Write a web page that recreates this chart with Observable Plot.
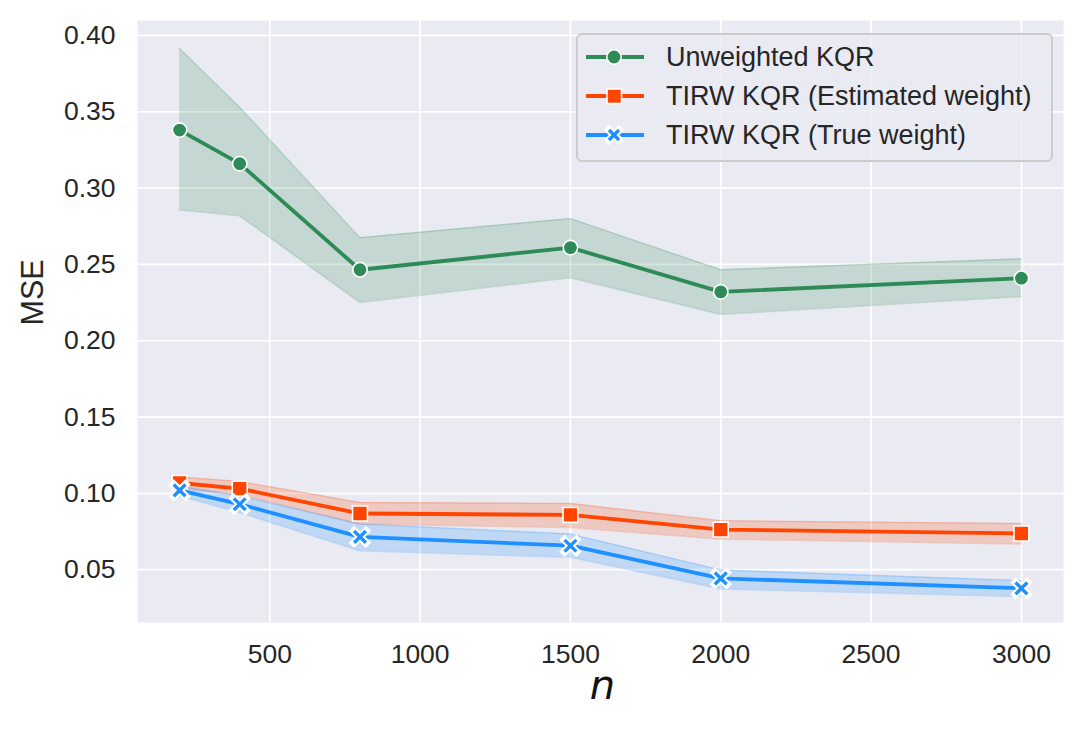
<!DOCTYPE html>
<html>
<head>
<meta charset="utf-8">
<script src="https://cdn.jsdelivr.net/npm/d3@7"></script>
<script src="https://cdn.jsdelivr.net/npm/@observablehq/plot@0.6"></script>
<style>
  html, body { margin: 0; padding: 0; background: #ffffff; }
  #wrap { position: relative; width: 1085px; height: 738px; font-family: "Liberation Sans", Arial, sans-serif; }
  #legend {
    position: absolute; left: 576px; top: 33px; width: 473px; height: 125px;
    background: rgba(234,234,242,0.8); border: 2px solid #cccccc; border-radius: 6px;
    box-sizing: content-box;
  }
  .row { position: absolute; left: 0; height: 40px; display: flex; align-items: center; }
  .row span { position: absolute; left: 88px; font-size: 27px; color: #262626; white-space: nowrap; line-height: 40px; }
</style>
</head>
<body>
<div id="wrap"><div id="legend"></div></div>
<script>
// ---- data ----
const ns = [200, 400, 800, 1500, 2000, 3000];
const seriesNames = ["Unweighted KQR", "TIRW KQR (Estimated weight)", "TIRW KQR (True weight)"];
const seriesColors = ["#2e8b57", "#ff4500", "#1e90ff"];
const seriesSymbols = ["circle", "square", "times"];

const unweighted   = [0.338, 0.316, 0.2465, 0.261, 0.232, 0.241];
const unweightedLo = [0.2857, 0.2818, 0.225, 0.2413, 0.2172, 0.2289];
const unweightedHi = [0.3915, 0.353, 0.2675, 0.280, 0.2465, 0.2537];

const estimated    = [0.1068, 0.1031, 0.0868, 0.0859, 0.0763, 0.0737];
const estimatedLo  = [0.1035, 0.0990, 0.0800, 0.0776, 0.0700, 0.0668];
const estimatedHi  = [0.1107, 0.1077, 0.0940, 0.0933, 0.0820, 0.0802];

const trueW        = [0.1020, 0.0929, 0.0715, 0.0657, 0.0443, 0.0378];
const trueWLo      = [0.0983, 0.0874, 0.0624, 0.0581, 0.0374, 0.0324];
const trueWHi      = [0.1049, 0.0983, 0.0800, 0.0733, 0.0498, 0.0428];

const xTicks = [500, 1000, 1500, 2000, 2500, 3000];
const yTicks = [0.05, 0.10, 0.15, 0.20, 0.25, 0.30, 0.35, 0.40];
const xLabel = "n";
const yLabel = "MSE";

// ---- table ----
const means = [unweighted, estimated, trueW];
const los = [unweightedLo, estimatedLo, trueWLo];
const his = [unweightedHi, estimatedHi, trueWHi];
const tables = seriesNames.map((name, s) => ns.map((n, i) => ({n, series: name, y: means[s][i], lo: los[s][i], hi: his[s][i]})));

const marks = [
  Plot.frame({fill: "#eaeaf2", stroke: null}),
  Plot.gridX(xTicks, {stroke: "#ffffff", strokeOpacity: 1, strokeWidth: 1.7}),
  Plot.gridY(yTicks, {stroke: "#ffffff", strokeOpacity: 1, strokeWidth: 1.7}),
  Plot.axisX(xTicks, {tickSize: 0, tickPadding: 22, label: null, tickFormat: d => String(d)}),
  Plot.axisY(yTicks, {tickSize: 0, tickPadding: 22, label: null, tickFormat: d3.format(".2f")}),
];
// bands (all below lines)
tables.forEach((t, s) => {
  const c = seriesColors[s];
  marks.push(Plot.areaY(t, {x: "n", y1: "lo", y2: "hi", fill: c, fillOpacity: 0.2}));
  marks.push(Plot.lineY(t, {x: "n", y: "lo", stroke: c, strokeOpacity: 0.2, strokeWidth: 1.5}));
  marks.push(Plot.lineY(t, {x: "n", y: "hi", stroke: c, strokeOpacity: 0.2, strokeWidth: 1.5}));
});
// lines + markers
tables.forEach((t, s) => {
  const c = seriesColors[s];
  marks.push(Plot.lineY(t, {x: "n", y: "y", stroke: c, strokeWidth: 3.8}));
  if (seriesSymbols[s] === "times") {
    marks.push(Plot.dot(t, {x: "n", y: "y", symbol: "times", r: 5.4, stroke: "#ffffff", strokeWidth: 7.5, strokeLinecap: "square"}));
    marks.push(Plot.dot(t, {x: "n", y: "y", symbol: "times", r: 5.4, stroke: c, strokeWidth: 3.4, strokeLinecap: "butt"}));
  } else if (seriesSymbols[s] === "square") {
    marks.push(Plot.dot(t, {x: "n", y: "y", symbol: "square", r: 8.4, fill: c, stroke: "#ffffff", strokeWidth: 1.6}));
  } else {
    marks.push(Plot.dot(t, {x: "n", y: "y", symbol: "circle", r: 7.2, fill: c, stroke: "#ffffff", strokeWidth: 1.6}));
  }
});
// axis titles
marks.push(Plot.text([yLabel], {frameAnchor: "left", dx: -104, dy: 4, rotate: -90, fontSize: 30.5, fill: "#262626", text: d => d}));
marks.push(Plot.text([xLabel], {frameAnchor: "bottom", dx: 2, dy: 76, fontSize: 40, fontStyle: "italic", fontFamily: "DejaVu Sans", fill: "#111111", text: d => d}));

const chart = Plot.plot({
  width: 1085,
  height: 738,
  marginLeft: 137,
  marginRight: 22,
  marginTop: 20,
  marginBottom: 116,
  x: {domain: [60, 3140]},
  y: {domain: [0.0154, 0.4098]},
  style: {fontSize: "26.5px", fontFamily: "'Liberation Sans', Arial, sans-serif", color: "#262626", background: "#ffffff", overflow: "visible"},
  marks
});
document.getElementById("wrap").prepend(chart);
chart.style.position = "absolute";
chart.style.left = "0px";
chart.style.top = "0px";

// ---- legend ----
const legend = document.getElementById("legend");
const rowCenters = [22, 61, 100];
seriesNames.forEach((name, s) => {
  const row = document.createElement("div");
  row.className = "row";
  row.style.top = (rowCenters[s] - 20) + "px";
  const c = seriesColors[s];
  let marker;
  if (seriesSymbols[s] === "circle") marker = `<circle cx="36" cy="20" r="7.2" fill="${c}" stroke="#fff" stroke-width="1.6"/>`;
  else if (seriesSymbols[s] === "square") marker = `<rect x="29" y="13" width="14.5" height="14.5" fill="${c}" stroke="#fff" stroke-width="1.6"/>`;
  else marker = `<path d="M31,15L41,25M41,15L31,25" stroke="#fff" stroke-width="7.5" stroke-linecap="square"/><path d="M31,15L41,25M41,15L31,25" stroke="${c}" stroke-width="3.4"/>`;
  row.innerHTML = `<svg width="80" height="40" style="position:absolute;left:0;top:0"><line x1="8" x2="66" y1="20" y2="20" stroke="${c}" stroke-width="3.8"/>${marker}</svg><span>${name}</span>`;
  legend.appendChild(row);
});
</script>
</body>
</html>
